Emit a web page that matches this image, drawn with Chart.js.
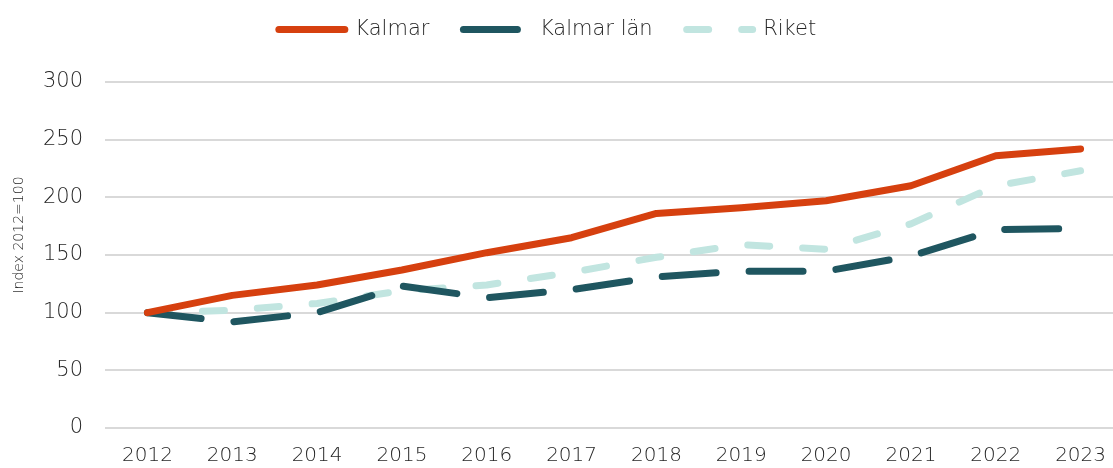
<!DOCTYPE html>
<html>
<head>
<meta charset="utf-8">
<script src="https://cdn.jsdelivr.net/npm/chart.js@4"></script>
<style>
  html, body { margin: 0; padding: 0; background: #ffffff; overflow: hidden; }
  #wrap { width: 1123px; height: 468px; }
</style>
</head>
<body>
<div id="wrap"><canvas id="c" width="1123" height="468"></canvas></div>
<script>
const years = ['2012','2013','2014','2015','2016','2017','2018','2019','2020','2021','2022','2023'];
const kalmar = [100, 115, 124, 137, 152, 165, 186, 191, 197, 210, 236, 242];
const kalmarLan = [100, 92, 100, 123, 113, 120, 131, 136, 136, 149, 172, 173];
const riket = [100, 102, 108, 119, 124, 135, 148, 159, 155, 177, 210, 223];
const yTicks = [0, 50, 100, 150, 200, 250, 300];
const yTitle = 'Index 2012=100';

const FONT = "'DejaVu Sans', sans-serif";
const TXT = '#262626';

const legendFix = {
  id: 'legendFix',
  beforeLayout(chart) {
    const lg = chart.legend;
    if (lg && !lg._patched) {
      const orig = lg.fit.bind(lg);
      lg.fit = function () { orig(); this.height = 82; };
      lg._patched = true;
    }
  },
  afterLayout(chart) {
    const lg = chart.legend;
    if (!lg) return;
    lg.left -= 14; lg.right -= 14;
    lg.top -= 15; lg.bottom -= 15;
  }
};

const yTitlePlugin = {
  id: 'yTitlePlugin',
  afterDraw(chart) {
    const ctx = chart.ctx;
    ctx.save();
    ctx.translate(19, 235);
    ctx.rotate(-Math.PI / 2);
    ctx.font = "300 14px " + FONT;
    ctx.fillStyle = TXT;
    ctx.textAlign = 'center';
    ctx.textBaseline = 'middle';
    ctx.fillText(yTitle, 0, 0);
    ctx.restore();
  }
};

new Chart(document.getElementById('c'), {
  type: 'line',
  data: {
    labels: years,
    datasets: [
      { label: 'Kalmar', data: kalmar, borderColor: '#D6400F', backgroundColor: '#D6400F',
        borderWidth: 7, borderCapStyle: 'round', borderJoinStyle: 'round', pointRadius: 0, tension: 0 },
      { label: 'Kalmar län', data: kalmarLan, borderColor: '#1F5660', backgroundColor: '#1F5660',
        borderWidth: 7, borderDash: [54, 33], borderCapStyle: 'round', borderJoinStyle: 'round', pointRadius: 0, tension: 0 },
      { label: 'Riket', data: riket, borderColor: '#C1E5E0', backgroundColor: '#C1E5E0',
        borderWidth: 7, borderDash: [22, 33], borderCapStyle: 'round', borderJoinStyle: 'round', pointRadius: 0, tension: 0 }
    ]
  },
  plugins: [legendFix, yTitlePlugin],
  options: {
    responsive: false,
    animation: false,
    devicePixelRatio: 1,
    layout: { padding: { top: 0, right: 0, left: 0, bottom: 0 } },
    plugins: {
      legend: {
        position: 'top',
        labels: {
          usePointStyle: true,
          pointStyle: 'line',
          pointStyleWidth: 66,
          boxHeight: 14,
          padding: 34,
          color: TXT,
          font: { family: FONT, size: 21, weight: 300 },
          generateLabels(chart) {
            const items = Chart.defaults.plugins.legend.labels.generateLabels(chart);
            items.forEach(it => {
              const ds = chart.data.datasets[it.datasetIndex];
              it.lineDash = ds.borderDash || [];
              it.lineCap = 'round';
              it.lineWidth = 7;
              it.strokeStyle = ds.borderColor;
              it.fillStyle = ds.borderColor;
            });
            return items;
          }
        }
      },
      tooltip: { enabled: false }
    },
    scales: {
      x: {
        offset: true,
        grid: { display: false, drawTicks: false },
        border: { display: false },
        ticks: { color: TXT, padding: 16, maxRotation: 0, font: { family: FONT, size: 20, weight: 300 } },
        afterFit: (s) => { s.height = 40; }
      },
      y: {
        min: 0, max: 300,
        afterBuildTicks: (s) => { s.ticks = yTicks.map(v => ({ value: v })); },
        grid: { color: '#D9D9D9', lineWidth: 2, drawTicks: false },
        border: { display: false },
        ticks: { color: TXT, padding: 22, font: { family: FONT, size: 21, weight: 300 } },
        title: { display: false },
        afterFit: (s) => { s.width = 105; }
      }
    }
  }
});
</script>
</body>
</html>
